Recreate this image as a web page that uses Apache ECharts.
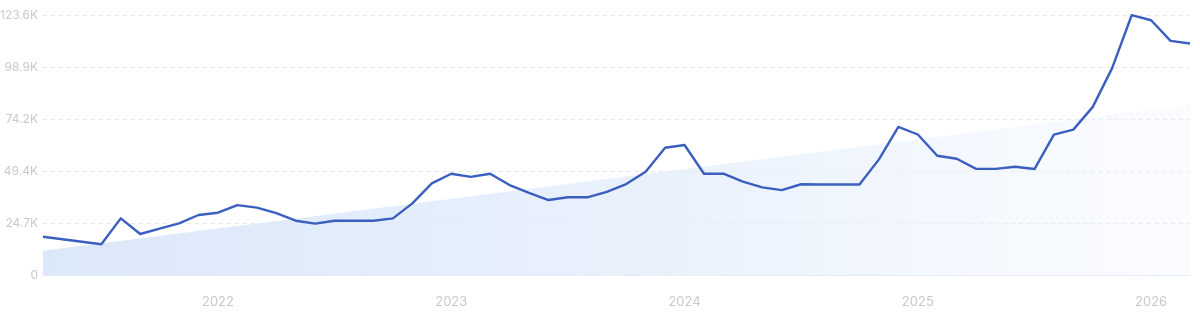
<!DOCTYPE html>
<html>
<head>
<meta charset="utf-8">
<script src="https://cdn.jsdelivr.net/npm/echarts@6/dist/echarts.min.js"></script>
<style>
html,body{margin:0;padding:0;background:#fff;}
#c{width:1200px;height:312px;}
</style>
</head>
<body>
<div id="c"></div>
<script>
// Monthly categories, Apr 2021 .. Mar 2026
const months = [
  "2021-04","2021-05","2021-06","2021-07","2021-08","2021-09","2021-10","2021-11","2021-12",
  "2022-01","2022-02","2022-03","2022-04","2022-05","2022-06","2022-07","2022-08","2022-09","2022-10","2022-11","2022-12",
  "2023-01","2023-02","2023-03","2023-04","2023-05","2023-06","2023-07","2023-08","2023-09","2023-10","2023-11","2023-12",
  "2024-01","2024-02","2024-03","2024-04","2024-05","2024-06","2024-07","2024-08","2024-09","2024-10","2024-11","2024-12",
  "2025-01","2025-02","2025-03","2025-04","2025-05","2025-06","2025-07","2025-08","2025-09","2025-10","2025-11","2025-12",
  "2026-01","2026-02","2026-03"
];
// Search volume per month
const volume = [
  18400,17200,16000,14800,27100,19700,22200,24700,28700,
  29800,33400,32200,29600,26000,24600,26000,26000,26000,27100,34200,43700,
  48300,46800,48300,42900,39200,35800,37100,37100,39700,43400,49200,60600,
  61900,48300,48300,44500,41800,40500,43300,43200,43200,43200,55100,70500,
  66900,56800,55400,50600,50600,51600,50500,66800,69200,80000,98500,123500,
  121100,111300,110100
];
// Trend line end points (first and last month)
const trendStart = ["2021-04", 11800];
const trendEnd = ["2026-03", 81000];
// Y axis ticks
const yMax = 123600;
const yInterval = 24720;

const chart = echarts.init(document.getElementById('c'), null, {renderer: 'canvas'});
chart.setOption({
  animation: false,
  backgroundColor: '#ffffff',
  grid: {left: 43, right: 10, top: 15, bottom: 36.5, containLabel: false, outerBoundsMode: 'none'},
  xAxis: {
    type: 'category',
    data: months,
    boundaryGap: false,
    axisLine: {show: true, lineStyle: {color: '#e8edf4', width: 1}},
    axisTick: {show: false},
    splitLine: {show: false},
    axisLabel: {
      interval: function (idx, val) { return val.slice(5) === '01'; },
      formatter: function (val) { return val.slice(0, 4); },
      color: '#c6c9ce',
      fontFamily: 'Inter',
      fontSize: 13,
      margin: 20
    }
  },
  yAxis: {
    type: 'value',
    min: 0,
    max: yMax,
    interval: yInterval,
    axisLine: {show: false},
    axisTick: {show: false},
    axisLabel: {
      color: '#c6c9ce',
      fontFamily: 'Inter',
      fontSize: 12,
      margin: 5,
      formatter: function (v) {
        if (v === 0) return '0';
        return (v / 1000).toFixed(1) + 'K';
      }
    },
    splitLine: {show: true, lineStyle: {color: '#e6e8ec', type: [4, 4], width: 1}}
  },
  series: [
    {
      type: 'line',
      data: [trendStart, trendEnd],
      symbol: 'none',
      silent: true,
      z: 1,
      lineStyle: {width: 0, opacity: 0},
      areaStyle: {
        origin: 'start',
        opacity: 1,
        color: new echarts.graphic.LinearGradient(0, 0, 1, 0, [
          {offset: 0, color: 'rgba(219,232,249,1)'},
          {offset: 0.55, color: 'rgba(226,237,251,0.75)'},
          {offset: 1, color: 'rgba(236,243,253,0.25)'}
        ])
      }
    },
    {
      type: 'line',
      data: volume,
      symbol: 'none',
      z: 3,
      lineStyle: {color: '#3a5fbf', width: 2.4, join: 'round'},
      itemStyle: {color: '#3a5fbf'}
    }
  ]
});
</script>
</body>
</html>
